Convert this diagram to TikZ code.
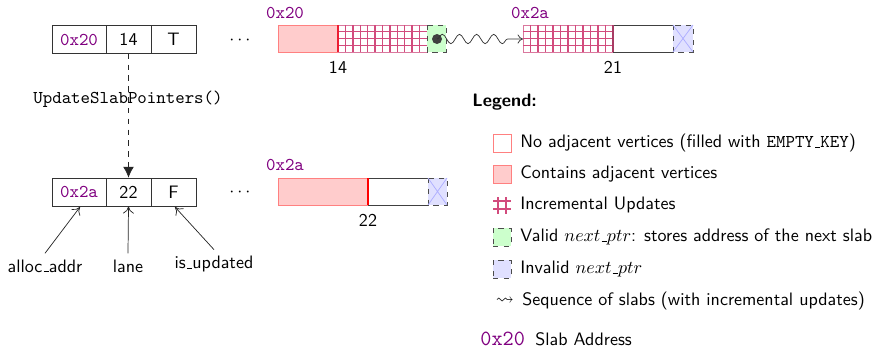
\documentclass[tikz,border=0pt]{standalone}
\usepackage{fontspec}
\usepackage{amssymb}
\usetikzlibrary{decorations.pathmorphing,arrows.meta}
% rule-style underscore, as in the classic TeX fonts
\renewcommand{\_}{\leavevmode\kern.06em\vbox{\hrule width.3em height .4pt}}
\definecolor{addrpurple}{RGB}{128,0,128}
\definecolor{gridline}{RGB}{210,75,125}
\definecolor{gridedge}{RGB}{218,120,158}
\def\px{0.555pt}
\begin{document}
\begin{tikzpicture}[x=\px,y=-\px, font=\sffamily,
  cell/.style={draw=black!80, inner sep=0pt, minimum height=28*\px, minimum width=#1*\px},
  cell/.default=45,
  addr/.style={font=\ttfamily, text=addrpurple},
  emptypart/.style={draw=black!75, fill=white},
  validptr/.style={draw=black!70, dashed, fill=green!20},
  invalidptr/.style={draw=black!70, dashed, fill=blue!12},
  crossline/.style={draw=blue!32},
  gridrule/.style={gridline, line width=0.75pt},
  pointer/.style={-{To[length=4pt,width=6pt]}, black!85},
  chain/.style={black!80, decorate, -{To[length=3pt,width=5pt]},
    decoration={snake, amplitude=2.6, segment length=9.5, post length=6}},
  keyicon/.style={minimum size=18*\px, inner sep=0pt},
  keytext/.style={anchor=west, inner sep=0pt}]
\useasboundingbox (0,0) rectangle (891,349);

% ---- header of the first warp lane ----
\node[cell=54, addr] (addrA) at (79,39.5) {0x20};
\node[cell] (laneA) at (128.5,39.5) {14};
\node[cell] (flagA) at (173.5,39.5) {T};
\node (dotsA) at (240,40) {$\cdots$};

% ---- header after the update ----
\node[cell=54, addr] (addrB) at (79,192) {0x2a};
\node[cell] (laneB) at (128.5,192) {22};
\node[cell] (flagB) at (173.5,192) {F};
\node (dotsB) at (240,192) {$\cdots$};

\draw[dashed, -{Latex[length=6pt,width=6pt]}, black!85] (laneA.south) -- (laneB.north);
\node[font=\ttfamily] (upd) at (128,99) {UpdateSlabPointers()};

% field names
\node (lblAddr) at (45,266) {alloc\_addr};
\node (lblLane) at (128,266) {lane};
\node (lblFlag) at (214,264) {is\_updated};
\coordinate (addrFoot) at (80,207);
\coordinate (flagFoot) at (175,207);
\draw[pointer] (lblAddr.north) -- (addrFoot);
\draw[pointer] (lblLane.north) -- (laneB.south);
\draw[pointer] (lblFlag.north) -- (flagFoot);

% ---- slab chain of lane 14 ----
\node[addr] (sA) at (285,13) {0x20};
\fill[red!20] (278,25) rectangle (338,52);
\draw[red!50] (338,25) -- (278,25) -- (278,52) -- (338,52);
\draw[gridedge] (338,25) rectangle (427,52);
\foreach \i in {1,...,11} \draw[gridrule] ({338+\i*89/12},25) -- ({338+\i*89/12},52);
\foreach \j in {1,2,3} \draw[gridrule] (338,{25+\j*6.75}) -- (427,{25+\j*6.75});
\draw[red!60!gridline, line width=0.8pt] (338,25) -- (338,52);
\draw[validptr] (427,25) rectangle (446,52);
\fill[black!75] (437,39) circle (5);
\coordinate (ptrA) at (437,39);
\node (cA) at (338,67) {14};

\node[addr] (sB) at (530,13) {0x2a};
\coordinate (slabB) at (523,39);
\draw[gridedge] (523,25) rectangle (613,52);
\foreach \i in {1,...,11} \draw[gridrule] ({523+\i*90/12},25) -- ({523+\i*90/12},52);
\foreach \j in {1,2,3} \draw[gridrule] (523,{25+\j*6.75}) -- (613,{25+\j*6.75});
\draw[emptypart] (613,25) rectangle (673,52);
\draw[gridline!80!black, line width=0.6pt] (613,25) -- (613,52);
\draw[invalidptr] (673,25) rectangle (693,52);
\draw[crossline] (673,25) -- (693,52) (673,52) -- (693,25);
\node (cB) at (613,67) {21};

\draw[chain] (ptrA) -- (slabB);

% ---- slab of lane 22 ----
\node[addr] (sC) at (285,165) {0x2a};
\fill[red!20] (278,178) rectangle (368,205);
\draw[red!50] (368,178) -- (278,178) -- (278,205) -- (368,205);
\draw[emptypart] (368,178) rectangle (428,205);
\draw[red, line width=1.2pt] (368,178) -- (368,205);
\draw[invalidptr] (428,178) rectangle (447,205);
\draw[crossline] (428,178) -- (447,205) (428,205) -- (447,178);
\node (cC) at (368,220) {22};

% ---- legend ----
\node[anchor=west, inner sep=0pt, font=\sffamily\bfseries] (lgd) at (472,102) {Legend:};

\node[keyicon, draw=red!50, fill=white] (k1) at (502,143) {};
\node[keytext] (t1) at (520,143) {No adjacent vertices (filled with \texttt{EMPTY\_KEY})};

\node[keyicon, draw=red!50, fill=red!20] (k2) at (502,174) {};
\node[keytext] (t2) at (520,174) {Contains adjacent vertices};

\node[keyicon] (k3) at (502,205) {};
\draw[gridrule] (498,197) -- (498,214) (506,197) -- (506,214)
  (493,201) -- (511,201) (493,209) -- (511,209);
\node[keytext] (t3) at (520,205) {Incremental Updates};

\node[keyicon, validptr] (k4) at (502,237) {};
\node[keytext] (t4) at (520,237) {Valid $next\_ptr$: stores address of the next slab};

\node[keyicon, invalidptr] (k5) at (502,269) {};
\node[keytext] (t5) at (520,269) {Invalid $next\_ptr$};

\node (k6) at (505,301) {$\leadsto$};
\node[keytext] (t6) at (522,301) {Sequence of slabs (with incremental updates)};

\node[anchor=west, inner sep=0pt, font=\large\ttfamily, text=addrpurple] (k7) at (480,339) {0x20};
\node[keytext] (t7) at (535,339) {Slab Address};
\end{tikzpicture}
\end{document}
